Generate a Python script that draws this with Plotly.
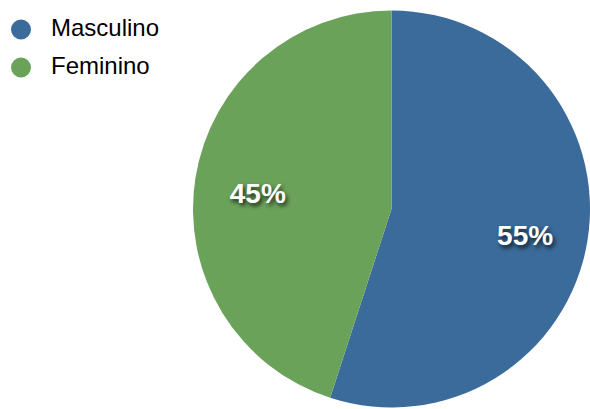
import plotly.graph_objects as go

# Share of respondents by sex
labels = ["Masculino", "Feminino"]
values = [55, 45]
colors = ["#3b6b9b", "#6ba25a"]

pie_domain = dict(x=[193 / 590, 1.0], y=[1.5 / 409, 398.5 / 409])
label_domain = dict(x=[193 / 590, 1.0], y=[0.0, 1 - 19.5 / 409])

fig = go.Figure()

# Filled slices
fig.add_trace(go.Pie(
    labels=labels,
    values=values,
    sort=False,
    direction="clockwise",
    rotation=0,
    marker=dict(colors=colors, line=dict(width=0)),
    textinfo="none",
    showlegend=False,
    hoverinfo="label+percent",
    domain=pie_domain,
))

# Transparent ring on top, so the percentage labels sit further out
fig.add_trace(go.Pie(
    labels=labels,
    values=values,
    sort=False,
    direction="clockwise",
    rotation=0,
    hole=0.39,
    marker=dict(colors=["rgba(0,0,0,0)"] * len(values), line=dict(width=0)),
    texttemplate="%{percent:.0%}",
    textposition="inside",
    insidetextorientation="horizontal",
    textfont=dict(family="Liberation Sans", size=28, color="white",
                  weight="bold", shadow="2px 3px 4px rgba(0,0,0,0.75)"),
    showlegend=False,
    hoverinfo="skip",
    domain=label_domain,
))

# Legend: round swatches with labels, top left
shapes = []
annotations = []
swatch_px = 20
for i, (name, col) in enumerate(zip(labels, colors)):
    cy = 29.5 + i * 38          # row centre, px from top
    cx = 21
    shapes.append(dict(
        type="circle", xref="paper", yref="paper",
        x0=(cx - swatch_px / 2) / 590, x1=(cx + swatch_px / 2) / 590,
        y0=1 - (cy + swatch_px / 2) / 409, y1=1 - (cy - swatch_px / 2) / 409,
        fillcolor=col, line=dict(width=0),
    ))
    annotations.append(dict(
        text=name, xref="paper", yref="paper",
        x=49 / 590, y=1 - (cy - 1.5) / 409, xanchor="left", yanchor="middle",
        showarrow=False, font=dict(family="Liberation Sans", size=24, color="black"),
    ))

fig.update_layout(
    width=590, height=409,
    margin=dict(l=0, r=0, t=0, b=0),
    paper_bgcolor="white", plot_bgcolor="white",
    font=dict(family="Liberation Sans", color="black"),
    shapes=shapes,
    annotations=annotations,
)

fig.write_html("out.html")
